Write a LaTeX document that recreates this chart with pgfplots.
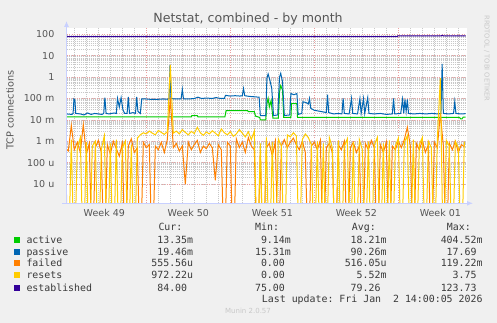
\documentclass[border=0pt]{standalone}
\usepackage{fontspec}
\setmainfont{DejaVu Sans}
\setmonofont{DejaVu Sans Mono}
\usepackage{pgfplots}
\usepackage{pgfplotstable}
\pgfplotsset{compat=1.18}
\usetikzlibrary{arrows.meta}

\definecolor{bg}{HTML}{F0F0F0}
\definecolor{cactive}{HTML}{00CC00}
\definecolor{cpassive}{HTML}{0066B3}
\definecolor{cfailed}{HTML}{FF8000}
\definecolor{cresets}{HTML}{FFCC00}
\definecolor{cestab}{HTML}{330099}
\definecolor{txt}{HTML}{555555}
\definecolor{ltxt}{HTML}{3A3A3A}
\definecolor{axcol}{HTML}{C8D0FF}
\definecolor{mgrid}{HTML}{EBA0A0}
\definecolor{mingrid}{HTML}{C8C8C8}

\pgfplotstableread{
x f r
0.25 0.5e-3 0.7e-3
0.50 0.35e-3 1e-9
0.75 5.5e-3 1.2e-3
1.00 0.4e-3 1e-9
1.25 0.9e-3 0.5e-3
1.50 0.3e-3 1.5e-3
1.75 6.0e-3 1e-9
2.00 0.25e-3 0.9e-3
2.25 0.8e-3 1e-9
2.50 1e-9 0.6e-3
2.75 0.5e-3 1.0e-3
3.00 1.1e-3 1e-9
3.25 0.3e-3 0.4e-3
3.50 1e-9 1.8e-3
3.75 0.7e-3 1e-9
4.00 0.25e-3 0.8e-3
4.25 1.0e-3 1e-9
4.50 0.45e-3 1.2e-3
4.75 0.2e-3 1e-9
5.00 0.8e-3 0.5e-3
5.25 1e-9 1.0e-3
5.50 0.6e-3 1e-9
5.75 1.3e-3 0.7e-3
6.00 0.3e-3 1e-9
6.25 0.5e-3 1.4e-3
6.50 1e-9 2.0e-3
6.75 0.9e-3 2.5e-3
7.00 0.5e-3 2.2e-3
7.25 0.7e-3 3.0e-3
7.50 1e-9 2.4e-3
7.75 0.6e-3 2.0e-3
8.00 0.4e-3 3.2e-3
8.25 0.9e-3 2.6e-3
8.50 0.3e-3 2.1e-3
8.75 1.2e-3 2.8e-3
9.00 0.11 3.75
9.25 0.5e-3 2.4e-3
9.50 0.8e-3 3.0e-3
9.75 0.35e-3 2.2e-3
10.00 0.6e-3 3.5e-3
10.25 0.01e-3 2.6e-3
10.50 0.9e-3 2.0e-3
10.75 0.4e-3 2.9e-3
11.00 0.7e-3 2.3e-3
11.25 1.1e-3 4.5e-3
11.50 0.3e-3 2.5e-3
11.75 0.6e-3 1.9e-3
12.00 0.45e-3 2.7e-3
12.25 0.8e-3 2.2e-3
12.50 0.5e-3 3.1e-3
12.75 0.015e-3 2.4e-3
13.00 0.7e-3 1.8e-3
13.25 0.4e-3 3.8e-3
13.50 1e-9 2.5e-3
13.75 0.9e-3 2.0e-3
14.00 0.6e-3 2.8e-3
14.25 1e-9 1.7e-3
14.50 1.3e-3 2.2e-3
14.75 0.5e-3 3.5e-3
15.00 0.9e-3 2.4e-3
15.25 0.3e-3 1.6e-3
15.50 1.5e-3 2.8e-3
15.75 0.6e-3 1.2e-3
16.00 0.4e-3 3.0e-3
16.25 1e-9 1e-9
16.50 0.3e-3 0.8e-3
16.75 1e-9 1e-9
17.00 0.5e-3 1.5e-3
17.25 0.8e-3 1e-9
17.50 0.2e-3 0.9e-3
17.75 1.0e-3 1e-9
18.00 1e-9 1.3e-3
18.25 0.6e-3 0.6e-3
18.50 1.2e-3 1e-9
18.75 0.5e-3 2.0e-3
19.00 0.9e-3 1.6e-3
19.25 1.4e-3 2.5e-3
19.50 0.7e-3 1.8e-3
19.75 0.4e-3 1e-9
20.00 1.0e-3 1.2e-3
20.25 0.3e-3 2.2e-3
20.50 1e-9 1.5e-3
20.75 0.6e-3 0.7e-3
21.00 0.9e-3 1e-9
21.25 0.4e-3 1.0e-3
21.50 1.1e-3 1e-9
21.75 1e-9 0.8e-3
22.00 0.5e-3 1e-9
22.25 0.8e-3 1.5e-3
22.50 0.3e-3 0.5e-3
22.75 1e-9 1e-9
23.00 0.7e-3 1.1e-3
23.25 0.4e-3 1e-9
23.50 1.0e-3 0.6e-3
23.75 1e-9 1.3e-3
24.00 0.5e-3 1e-9
24.25 0.9e-3 0.9e-3
24.50 0.3e-3 1e-9
24.75 0.6e-3 1.2e-3
25.00 1e-9 0.4e-3
25.25 0.8e-3 1e-9
25.50 0.4e-3 1.0e-3
25.75 1.1e-3 1e-9
26.00 0.5e-3 0.7e-3
26.25 1e-9 1.5e-3
26.50 0.7e-3 1e-9
26.75 0.3e-3 0.8e-3
27.00 0.9e-3 1e-9
27.25 1e-9 1.1e-3
27.50 0.6e-3 1e-9
27.75 0.4e-3 0.6e-3
28.00 1.0e-3 1.4e-3
28.25 0.5e-3 1e-9
28.50 1.2e-3 0.9e-3
28.75 4.5e-3 1.8e-3
29.00 0.6e-3 1e-9
29.25 1e-9 1.2e-3
29.50 0.8e-3 1e-9
29.75 0.4e-3 0.7e-3
30.00 1.1e-3 1.5e-3
30.25 0.3e-3 1e-9
30.50 0.7e-3 1.0e-3
30.75 1e-9 0.5e-3
31.00 0.9e-3 1e-9
31.25 0.5e-3 1.3e-3
31.50 0.02 0.9
31.75 0.6e-3 1e-9
32.00 1e-9 1.1e-3
32.25 0.8e-3 0.6e-3
32.50 0.4e-3 1e-9
32.75 1.0e-3 1.0e-3
33.00 0.3e-3 0.5e-3
33.25 0.7e-3 1e-9
33.50 0.56e-3 0.97e-3
}\tabfr

\pgfplotstableread{
x y
0.35 19e-3
0.80 18e-3
0.90 20e-3
0.97 95e-3
1.05 85e-3
1.12 20e-3
1.5 19e-3
1.8 17e-3
2.1 21e-3
2.4 18e-3
2.7 20e-3
3.0 19e-3
3.3 18e-3
3.45 20e-3
3.55 110e-3
3.65 20e-3
3.9 19e-3
4.3 21e-3
4.5 20e-3
4.6 100e-3
4.75 40e-3
4.9 110e-3
5.05 30e-3
5.2 20e-3
5.4 20e-3
5.5 120e-3
5.6 20e-3
5.9 22e-3
6.1 20e-3
6.2 120e-3
6.3 25e-3
6.5 20e-3
6.62 95e-3
7.0 95e-3
7.5 90e-3
8.0 92e-3
8.4 95e-3
8.75 92e-3
8.9 100e-3
8.97 3.5
9.05 100e-3
9.4 95e-3
9.9 95e-3
10.0 270e-3
10.1 95e-3
10.5 95e-3
11.0 100e-3
11.3 115e-3
11.6 100e-3
12.0 105e-3
12.5 100e-3
12.8 110e-3
13.2 100e-3
13.5 100e-3
13.6 140e-3
14.0 130e-3
14.4 135e-3
14.8 130e-3
15.0 135e-3
15.1 290e-3
15.2 135e-3
15.6 125e-3
16.0 120e-3
16.4 115e-3
16.5 16e-3
16.95 16e-3
17.05 900e-3
17.15 1.4
17.3 700e-3
17.45 300e-3
17.6 16e-3
17.95 17e-3
18.1 1.0
18.2 1.5
18.35 600e-3
18.5 16e-3
18.95 17e-3
19.05 170e-3
19.3 150e-3
19.55 170e-3
19.65 18e-3
19.95 20e-3
20.05 70e-3
20.3 65e-3
20.5 55e-3
20.6 100e-3
20.7 35e-3
21.0 28e-3
21.5 25e-3
22.0 22e-3
22.1 150e-3
22.2 22e-3
22.6 19e-3
23.0 20e-3
23.3 19e-3
23.4 100e-3
23.5 20e-3
23.9 19e-3
24.1 100e-3
24.2 20e-3
24.6 19e-3
24.8 100e-3
24.9 20e-3
25.1 100e-3
25.2 20e-3
25.45 110e-3
25.55 20e-3
26.0 19e-3
26.5 20e-3
27.0 18e-3
27.5 19e-3
27.6 100e-3
27.7 19e-3
28.2 20e-3
28.35 90e-3
28.45 20e-3
28.55 90e-3
28.65 25e-3
28.75 90e-3
28.85 20e-3
29.3 19e-3
29.8 20e-3
30.3 19e-3
30.8 20e-3
31.3 19e-3
31.55 20e-3
31.65 4.1
31.75 20e-3
32.2 19e-3
32.6 20e-3
32.7 70e-3
32.8 20e-3
33.2 19e-3
33.6 19.46e-3
}\tabpassive

\pgfplotstableread{
x y
0.35 14e-3
10.75 14e-3
10.8 16e-3
11.25 16e-3
11.3 14e-3
13.55 14e-3
13.65 27e-3
15.45 27e-3
15.5 24e-3
16.0 24e-3
16.1 15e-3
16.45 13e-3
16.5 10e-3
16.95 10e-3
17.05 60e-3
17.15 100e-3
17.25 40e-3
17.4 80e-3
17.55 12e-3
18.0 12e-3
18.1 200e-3
18.2 400e-3
18.35 250e-3
18.45 13e-3
19.05 13e-3
19.1 58e-3
19.55 58e-3
19.6 13e-3
33.1 13e-3
33.2 11e-3
33.3 11e-3
33.4 13.35e-3
33.6 13.35e-3
}\tabactive

\pgfplotstableread{
x y
0.35 77
8.9 77
9.0 81
9.1 77
18.0 77
18.1 81
18.2 77
27.9 77
27.95 84
31.55 84
31.65 90
31.75 84
33.6 84
}\tabestab

\begin{document}
\begin{tikzpicture}[x=1pt,y=1pt]
\fill[bg] (0,0) rectangle (497,323);
\begin{axis}[
  at={(66.5pt,119.7pt)}, anchor=south west,
  scale only axis, width=400pt, height=175.6pt,
  ymode=log,
  xmin=0.35, xmax=33.68, ymin=1.26e-6, ymax=204,
  axis background/.style={fill=white},
  axis line style={draw=none},
  major tick length=0pt, minor tick length=0pt,
  xtick={3.5,10.5,17.5,24.5,31.5},
  xticklabels={Week 49,Week 50,Week 51,Week 52,Week 01},
  minor xtick={1,2,3,4,5,6,8,9,10,11,12,13,15,16,17,18,19,20,22,23,24,25,26,27,29,30,31,32,33},
  xminorgrids=true,
  extra x ticks={7,14,21,28},
  extra x tick labels={},
  extra x tick style={grid=major, major grid style={mgrid, line width=0.6pt, dash pattern=on 1pt off 1.5pt}},
  ytick={1e-5,1e-4,1e-3,1e-2,1e-1,1,10,100},
  yticklabels={10 u,100 u,1 m,10 m,100 m,1,10,100},
  ymajorgrids=true, yminorgrids=true,
  major grid style={mgrid, line width=0.6pt, dash pattern=on 1pt off 1.5pt},
  minor grid style={mingrid, line width=0.5pt, dash pattern=on 1pt off 1pt},
  tick label style={font=\fontsize{9.5}{11}\selectfont, text=txt},
  yticklabel style={anchor=east, inner sep=0pt, xshift=-12pt},
  xticklabel style={anchor=north, inner sep=0pt, yshift=-5.5pt},
  unbounded coords=jump,
  clip=true,
]
\addplot[cactive, line width=1pt] table[x=x,y=y] {\tabactive};
\addplot[cpassive, line width=1pt] table[x=x,y=y] {\tabpassive};
\addplot[cfailed, line width=1pt] table[x=x,y=f] {\tabfr};
\addplot[cresets, line width=1pt] table[x=x,y=r] {\tabfr};
\addplot[cestab, line width=1pt] table[x=x,y=y] {\tabestab};
\end{axis}
% axis arrows
\draw[axcol, line width=1pt, -{Latex[length=6pt,width=5pt]}] (66.5,119.2) -- (66.5,302);
\draw[axcol, line width=1pt, -{Latex[length=6pt,width=5pt]}] (62,119.7) -- (473,119.7);
% title
\node[anchor=base, text=txt, font=\fontsize{12.6}{14}\selectfont, inner sep=0pt] at (248,300.5) {Netstat, combined - by month};
\node[rotate=90, text=txt, font=\fontsize{9.7}{11}\selectfont, inner sep=0pt] at (10,213) {TCP connections};
\node[rotate=-90, text={rgb,255:red,200;green,200;blue,200}, font=\fontsize{6.7}{8}\selectfont, inner sep=0pt] at (486.7,264.5) {RRDTOOL / TOBI OETIKER};
% legend
\begin{scope}[every node/.style={inner sep=0pt, text=ltxt, font=\fontsize{9.9}{11}\selectfont\ttfamily}]
\node[anchor=base west] at (158.3,92.2) {Cur:};
\node[anchor=base west] at (255,92.2) {Min:};
\node[anchor=base west] at (351.7,92.2) {Avg:};
\node[anchor=base west] at (446.7,92.2) {Max:};
% rows
\fill[cactive] (14,80.3) rectangle (20,86.3);
\node[anchor=base west] at (26.3,79.8) {active};
\node[anchor=base east] at (193.3,79.8) {13.35m};
\node[anchor=base east] at (291,79.8) {9.14m};
\node[anchor=base east] at (386.7,79.8) {18.21m};
\node[anchor=base east] at (482.7,79.8) {404.52m};
\fill[cpassive] (14,68.3) rectangle (20,74.3);
\node[anchor=base west] at (26.3,67.8) {passive};
\node[anchor=base east] at (193.3,67.8) {19.46m};
\node[anchor=base east] at (291,67.8) {15.31m};
\node[anchor=base east] at (386.7,67.8) {90.26m};
\node[anchor=base east] at (482.7,67.8) {17.69\phantom{m}};
\fill[cfailed] (14,56.7) rectangle (20,62.7);
\node[anchor=base west] at (26.3,56.2) {failed};
\node[anchor=base east] at (193.3,56.2) {555.56u};
\node[anchor=base east] at (291,56.2) {0.00\phantom{m}};
\node[anchor=base east] at (386.7,56.2) {516.05u};
\node[anchor=base east] at (482.7,56.2) {119.22m};
\fill[cresets] (14,44.7) rectangle (20,50.7);
\node[anchor=base west] at (26.3,44.2) {resets};
\node[anchor=base east] at (193.3,44.2) {972.22u};
\node[anchor=base east] at (291,44.2) {0.00\phantom{m}};
\node[anchor=base east] at (386.7,44.2) {5.52m};
\node[anchor=base east] at (482.7,44.2) {3.75\phantom{m}};
\fill[cestab] (14,32.3) rectangle (20,38.3);
\node[anchor=base west] at (26.3,31.8) {established};
\node[anchor=base east] at (193.3,31.8) {84.00\phantom{m}};
\node[anchor=base east] at (291,31.8) {75.00\phantom{m}};
\node[anchor=base east] at (386.7,31.8) {79.26\phantom{m}};
\node[anchor=base east] at (482.7,31.8) {123.73\phantom{m}};
\node[anchor=base east] at (482.7,20.2) {Last update: Fri Jan\ \ 2 14:00:05 2026};
\end{scope}
\node[anchor=base, inner sep=0pt, text={rgb,255:red,200;green,200;blue,200}, font=\fontsize{7}{8}\selectfont] at (248,9) {Munin 2.0.57};
\end{tikzpicture}
\end{document}
